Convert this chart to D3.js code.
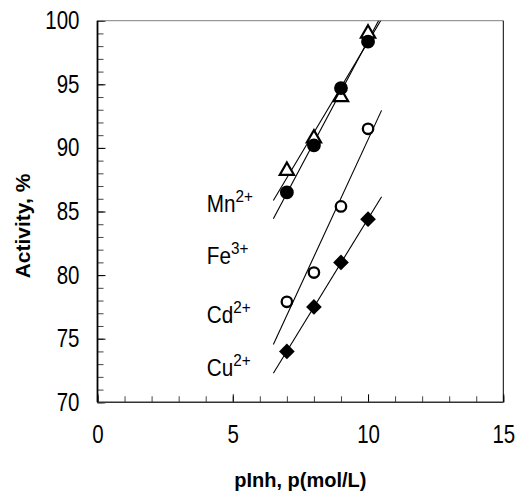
<!DOCTYPE html>
<html>
<head>
<meta charset="utf-8">
<script src="https://cdn.jsdelivr.net/npm/d3@7"></script>
<style>
  body { margin: 0; background: #fff; }
  svg { display: block; }
</style>
</head>
<body>
<div id="chart"></div>
<script>
// data
const pInh = [7, 8, 9, 10];
const mnActivity = [86.5, 90.2, 94.7, 98.35];
const feActivity = [88.2, 90.75, 94.0, 99.0];
const cdActivity = [77.9, 80.2, 85.4, 91.5];
const cuActivity = [74.0, 77.5, 81.0, 84.4];

const xTicks = [0, 5, 10, 15];
const yTicks = [70, 75, 80, 85, 90, 95, 100];

const ionNames = ["Mn", "Fe", "Cd", "Cu"];
const ionCharges = ["2+", "3+", "2+", "2+"];

// layout
const width = 515;
const height = 493;
const margin = { top: 20.7, right: 11.7, bottom: 90.7, left: 97.5 };
const fitRange = [6.5, 10.5];
const labelX = 4.04;
const labelY = [84.98, 80.87, 76.2, 72.07];
const font = "'Liberation Sans', Arial, sans-serif";

const svg = d3.select("#chart")
    .append("svg")
    .attr("width", width)
    .attr("height", height);

const x = d3.scaleLinear()
    .domain([0, 15])
    .range([margin.left, width - margin.right]);

const y = d3.scaleLinear()
    .domain([70, 100])
    .range([height - margin.bottom, margin.top]);

// clip for the trend lines
svg.append("clipPath")
    .attr("id", "plot-clip")
    .append("rect")
    .attr("x", x(0))
    .attr("y", y(100))
    .attr("width", x(15) - x(0))
    .attr("height", y(70) - y(100));

// minor ticks
svg.append("g")
    .attr("transform", `translate(0,${y(70)})`)
    .call(d3.axisBottom(x).tickValues(d3.range(0, 16)).tickSize(-6).tickSizeOuter(0).tickFormat(""))
    .call(g => g.select(".domain").remove())
    .selectAll("line").attr("stroke", "#444");

svg.append("g")
    .attr("transform", `translate(${x(0)},0)`)
    .call(d3.axisLeft(y).tickValues(d3.range(70, 101)).tickSize(-6).tickSizeOuter(0).tickFormat(""))
    .call(g => g.select(".domain").remove())
    .selectAll("line").attr("stroke", "#444");

// major ticks + labels
const kx = 0.82;

const xAxis = svg.append("g")
    .attr("transform", `translate(0,${y(70)})`)
    .call(d3.axisBottom(x).tickValues(xTicks).tickSize(-8).tickSizeOuter(0).tickPadding(23))
    .call(g => g.select(".domain").remove());

xAxis.selectAll("line").attr("stroke", "#000");
xAxis.selectAll("text")
    .attr("font-size", 25)
    .attr("font-family", font)
    .attr("fill", "#000")
    .attr("transform", `scale(${kx},1)`);

const yAxis = svg.append("g")
    .attr("transform", `translate(${x(0)},0)`)
    .call(d3.axisLeft(y).tickValues(yTicks).tickSize(-8).tickSizeOuter(0).tickPadding(18))
    .call(g => g.select(".domain").remove());

yAxis.selectAll("line").attr("stroke", "#000");
yAxis.selectAll("text")
    .attr("font-size", 25)
    .attr("font-family", font)
    .attr("fill", "#000")
    .attr("x", -18 / kx)
    .attr("transform", `scale(${kx},1)`);

// frame
svg.append("line")
    .attr("x1", x(0)).attr("x2", x(15))
    .attr("y1", y(100)).attr("y2", y(100))
    .attr("stroke", "#808080").attr("stroke-width", 1);
svg.append("line")
    .attr("x1", x(15)).attr("x2", x(15))
    .attr("y1", y(100)).attr("y2", y(70))
    .attr("stroke", "#000").attr("stroke-width", 1);
svg.append("line")
    .attr("x1", x(0)).attr("x2", x(15))
    .attr("y1", y(70)).attr("y2", y(70))
    .attr("stroke", "#333").attr("stroke-width", 1.5);
svg.append("line")
    .attr("x1", x(0)).attr("x2", x(0))
    .attr("y1", y(100)).attr("y2", y(70))
    .attr("stroke", "#000").attr("stroke-width", 1.8);

// least squares trend line
function trend(xs, ys) {
    const mx = d3.mean(xs);
    const my = d3.mean(ys);
    const b = d3.sum(xs, (v, i) => (v - mx) * (ys[i] - my)) / d3.sum(xs, v => (v - mx) ** 2);
    return v => my + b * (v - mx);
}

const series = [
    { values: feActivity, shape: "triangle" },
    { values: mnActivity, shape: "dot" },
    { values: cdActivity, shape: "ring" },
    { values: cuActivity, shape: "diamond" }
];

const lines = svg.append("g").attr("clip-path", "url(#plot-clip)");
series.forEach(s => {
    const f = trend(pInh, s.values);
    lines.append("line")
        .attr("x1", x(fitRange[0])).attr("y1", y(f(fitRange[0])))
        .attr("x2", x(fitRange[1])).attr("y2", y(f(fitRange[1])))
        .attr("stroke", "#000")
        .attr("stroke-width", 1.1);
});

const markers = {
    triangle: { sym: d3.symbol(d3.symbolTriangle, 88), fill: "#fff", stroke: "#000", sw: 2.2, rot: 0 },
    dot: { sym: d3.symbol(d3.symbolCircle, 150), fill: "#000", stroke: "none", sw: 0, rot: 0 },
    ring: { sym: d3.symbol(d3.symbolCircle, 85), fill: "#fff", stroke: "#000", sw: 2.3, rot: 0 },
    diamond: { sym: d3.symbol(d3.symbolSquare, 123), fill: "#000", stroke: "none", sw: 0, rot: 45 }
};

series.forEach(s => {
    const m = markers[s.shape];
    svg.append("g")
        .selectAll("path")
        .data(s.values)
        .join("path")
        .attr("d", m.sym)
        .attr("transform", (d, i) => `translate(${x(pInh[i])},${y(d)}) rotate(${m.rot})`)
        .attr("fill", m.fill)
        .attr("stroke", m.stroke)
        .attr("stroke-width", m.sw);
});

// ion labels
ionNames.forEach((name, i) => {
    const t = svg.append("text")
        .attr("transform", `translate(${x(labelX)},${y(labelY[i])}) scale(0.9,1)`)
        .attr("font-family", font)
        .attr("font-size", 23)
        .attr("fill", "#000");
    t.append("tspan").text(name);
    t.append("tspan")
        .attr("dy", -10)
        .attr("font-size", 17)
        .text(ionCharges[i]);
});

// axis titles
svg.append("text")
    .attr("x", (x(0) + x(15)) / 2)
    .attr("y", 486.7)
    .attr("text-anchor", "middle")
    .attr("font-family", font)
    .attr("font-weight", "bold")
    .attr("font-size", 20)
    .text("pInh, p(mol/L)");

svg.append("text")
    .attr("transform", `translate(30,226) rotate(-90)`)
    .attr("text-anchor", "middle")
    .attr("font-family", font)
    .attr("font-weight", "bold")
    .attr("font-size", 21)
    .text("Activity, %");
</script>
</body>
</html>
